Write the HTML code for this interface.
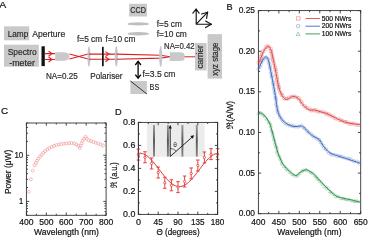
<!DOCTYPE html>
<html><head><meta charset="utf-8"><style>
html,body{margin:0;padding:0;background:#fff;width:370px;height:244px;overflow:hidden}
svg{display:block;will-change:transform}
text{font-family:"Liberation Sans", sans-serif}
</style></head><body>
<svg width="370" height="244" viewBox="0 0 370 244">
<rect width="370" height="244" fill="#fff"/>
<text x="-0.70" y="7.90" font-size="9.80" text-anchor="start" fill="#111" stroke="#111" stroke-width="0.20" textLength="7.00" lengthAdjust="spacingAndGlyphs">A</text>
<rect x="4" y="26.3" width="25.2" height="14.0" fill="#c9c9c9"/>
<text x="7.70" y="36.90" font-size="8.90" text-anchor="start" fill="#2a2a2a" stroke="#2a2a2a" stroke-width="0.18" textLength="20.60" lengthAdjust="spacingAndGlyphs">Lamp</text>
<text x="32.20" y="36.50" font-size="8.90" text-anchor="start" fill="#2a2a2a" stroke="#2a2a2a" stroke-width="0.18" textLength="33.10" lengthAdjust="spacingAndGlyphs">Aperture</text>
<rect x="4" y="44.7" width="34.8" height="22.0" fill="#c9c9c9"/>
<text x="7.70" y="54.70" font-size="8.90" text-anchor="start" fill="#2a2a2a" stroke="#2a2a2a" stroke-width="0.18" textLength="29.00" lengthAdjust="spacingAndGlyphs">Spectro</text>
<text x="9.30" y="65.50" font-size="8.90" text-anchor="start" fill="#2a2a2a" stroke="#2a2a2a" stroke-width="0.18" textLength="25.60" lengthAdjust="spacingAndGlyphs">-meter</text>
<rect x="41.5" y="46.3" width="3.3" height="19.8" fill="#111"/>
<path d="M44.8,53.6 H55 M44.8,59.5 H55" stroke="#d82222" stroke-width="1.1" fill="none"/>
<path d="M48.6,51.2 L52,53.6 L48.6,56.2 M48.6,57 L52,59.5 L48.6,62" stroke="#d82222" stroke-width="1.1" fill="none"/>
<path d="M55.2,52.2 H64 Q69.5,52.6 69.5,56.45 Q69.5,60.3 64,60.7 H55.2 Z" fill="#c9c9c9"/>
<path d="M69.5,54 L88.2,59 M69.5,59 L88.2,54" stroke="#d82222" stroke-width="1.1" fill="none"/>
<ellipse cx="89.0" cy="56.5" rx="1.55" ry="10.4" fill="#c2c7cc"/>
<path d="M88.8,54.1 H116.4 M88.8,59.2 H116.4" stroke="#d82222" stroke-width="1.1" fill="none"/>
<rect x="102" y="46.8" width="1.7" height="19.4" fill="#111"/>
<path d="M105.4,51.6 L108.9,54.1 L105.4,56.6 M105.4,57 L108.9,59.3 L105.4,61.8" stroke="#d82222" stroke-width="1.1" fill="none"/>
<ellipse cx="116.3" cy="56.5" rx="1.55" ry="10.4" fill="#c2c7cc"/>
<path d="M116.4,54.1 L160.5,55.2 L170,56.8 M116.4,59.3 L160.5,58.1 L170,56.8" stroke="#d82222" stroke-width="1.1" fill="none"/>
<ellipse cx="160.7" cy="56.6" rx="1.55" ry="10.5" fill="#c2c7cc"/>
<path d="M169.8,52.2 H180 Q184.5,52.8 184.5,54.5 V58.9 Q184.5,60.5 180,61.0 H169.8 Z" fill="#c9c9c9"/>
<path d="M184.5,56.8 H195" stroke="#d82222" stroke-width="1"/>
<rect x="195" y="43" width="11.6" height="27.4" fill="#c9c9c9"/>
<rect x="207.6" y="34.1" width="14.4" height="44.5" fill="#c9c9c9"/>
<text transform="translate(203.3,56.9) rotate(-90)" font-size="8.9" text-anchor="middle" fill="#2a2a2a" stroke="#2a2a2a" stroke-width="0.18" textLength="23.4" lengthAdjust="spacingAndGlyphs">carrier</text>
<text transform="translate(217.6,59.15) rotate(-90)" font-size="8.9" text-anchor="middle" fill="#2a2a2a" stroke="#2a2a2a" stroke-width="0.18" textLength="33.3" lengthAdjust="spacingAndGlyphs">xyz stage</text>
<rect x="129.2" y="3.8" width="17.7" height="12.7" fill="#c9c9c9"/>
<text x="138.20" y="13.20" font-size="8.90" text-anchor="middle" fill="#2a2a2a" stroke="#2a2a2a" stroke-width="0.18" textLength="15.70" lengthAdjust="spacingAndGlyphs">CCD</text>
<ellipse cx="138.2" cy="23.9" rx="10.9" ry="1.7" fill="#bdbfc1"/>
<ellipse cx="138.3" cy="33.8" rx="10.8" ry="1.7" fill="#bdbfc1"/>
<text x="156.80" y="27.40" font-size="8.90" text-anchor="start" fill="#2a2a2a" stroke="#2a2a2a" stroke-width="0.18" textLength="25.00" lengthAdjust="spacingAndGlyphs">f=5 cm</text>
<text x="156.80" y="37.40" font-size="8.90" text-anchor="start" fill="#2a2a2a" stroke="#2a2a2a" stroke-width="0.18" textLength="30.00" lengthAdjust="spacingAndGlyphs">f=10 cm</text>
<text x="105.60" y="41.90" font-size="8.90" text-anchor="start" fill="#2a2a2a" stroke="#2a2a2a" stroke-width="0.18" textLength="29.90" lengthAdjust="spacingAndGlyphs">f=10 cm</text>
<text x="77.00" y="41.90" font-size="8.90" text-anchor="start" fill="#2a2a2a" stroke="#2a2a2a" stroke-width="0.18" textLength="25.20" lengthAdjust="spacingAndGlyphs">f=5 cm</text>
<text x="164.00" y="49.10" font-size="8.90" text-anchor="start" fill="#2a2a2a" stroke="#2a2a2a" stroke-width="0.18" textLength="30.60" lengthAdjust="spacingAndGlyphs">NA=0.42</text>
<text x="46.00" y="79.00" font-size="8.90" text-anchor="start" fill="#2a2a2a" stroke="#2a2a2a" stroke-width="0.18" textLength="31.70" lengthAdjust="spacingAndGlyphs">NA=0.25</text>
<text x="90.20" y="79.00" font-size="8.90" text-anchor="start" fill="#2a2a2a" stroke="#2a2a2a" stroke-width="0.18" textLength="32.40" lengthAdjust="spacingAndGlyphs">Polariser</text>
<text x="142.40" y="76.80" font-size="8.90" text-anchor="start" fill="#2a2a2a" stroke="#2a2a2a" stroke-width="0.18" textLength="33.10" lengthAdjust="spacingAndGlyphs">f=3.5 cm</text>
<path d="M138.1,61.6 V78" stroke="#000" stroke-width="1.3" fill="none"/>
<path d="M135.3,65 L138.1,61.4 L140.9,65 M135.3,74.6 L138.1,78.2 L140.9,74.6" stroke="#000" stroke-width="1.3" fill="none"/>
<rect x="130.4" y="81" width="16.5" height="13" fill="#c9c9c9"/>
<path d="M130.4,81 L146.9,94" stroke="#222" stroke-width="0.9"/>
<text x="149.60" y="89.80" font-size="8.90" text-anchor="start" fill="#2a2a2a" stroke="#2a2a2a" stroke-width="0.18" textLength="9.70" lengthAdjust="spacingAndGlyphs">BS</text>
<path d="M196.2,24.2 V9 M196.2,24.2 H211.5 M196.2,24.2 L207.7,12.1" stroke="#111" stroke-width="1.15" fill="none" stroke-linecap="round" stroke-linejoin="round"/>
<path d="M192.9,13.2 L196.1,9.2 L199.1,13.2 M205.6,21.1 L211.3,24.3 L205.6,27.6 M201.6,14 L207.6,12.2 L206.6,18.4" stroke="#111" stroke-width="1.15" fill="none" stroke-linecap="round" stroke-linejoin="round"/>
<text x="226.50" y="10.20" font-size="9.20" text-anchor="start" fill="#111" stroke="#111" stroke-width="0.20">B</text>
<rect x="258.40" y="10.60" width="102.30" height="203.10" fill="none" stroke="#333" stroke-width="0.9"/>
<path d="M258.40,213.70 v-2.80 M258.40,10.60 v2.80 M268.63,213.70 v-1.60 M268.63,10.60 v1.60 M278.86,213.70 v-2.80 M278.86,10.60 v2.80 M289.09,213.70 v-1.60 M289.09,10.60 v1.60 M299.32,213.70 v-2.80 M299.32,10.60 v2.80 M309.55,213.70 v-1.60 M309.55,10.60 v1.60 M319.78,213.70 v-2.80 M319.78,10.60 v2.80 M330.01,213.70 v-1.60 M330.01,10.60 v1.60 M340.24,213.70 v-2.80 M340.24,10.60 v2.80 M350.47,213.70 v-1.60 M350.47,10.60 v1.60 M360.70,213.70 v-2.80 M360.70,10.60 v2.80 M258.40,213.70 h2.80 M360.70,213.70 h-2.80 M258.40,193.39 h1.60 M360.70,193.39 h-1.60 M258.40,173.08 h2.80 M360.70,173.08 h-2.80 M258.40,152.77 h1.60 M360.70,152.77 h-1.60 M258.40,132.46 h2.80 M360.70,132.46 h-2.80 M258.40,112.15 h1.60 M360.70,112.15 h-1.60 M258.40,91.84 h2.80 M360.70,91.84 h-2.80 M258.40,71.53 h1.60 M360.70,71.53 h-1.60 M258.40,51.22 h2.80 M360.70,51.22 h-2.80 M258.40,30.91 h1.60 M360.70,30.91 h-1.60 M258.40,10.60 h2.80 M360.70,10.60 h-2.80" stroke="#333" stroke-width="0.9" fill="none"/>
<text x="255.00" y="216.20" font-size="9.00" text-anchor="end" fill="#111" stroke="#111" stroke-width="0.20" textLength="16.30" lengthAdjust="spacingAndGlyphs">0.00</text>
<text x="255.00" y="175.58" font-size="9.00" text-anchor="end" fill="#111" stroke="#111" stroke-width="0.20" textLength="16.30" lengthAdjust="spacingAndGlyphs">0.05</text>
<text x="255.00" y="134.96" font-size="9.00" text-anchor="end" fill="#111" stroke="#111" stroke-width="0.20" textLength="16.30" lengthAdjust="spacingAndGlyphs">0.10</text>
<text x="255.00" y="94.34" font-size="9.00" text-anchor="end" fill="#111" stroke="#111" stroke-width="0.20" textLength="16.30" lengthAdjust="spacingAndGlyphs">0.15</text>
<text x="255.00" y="53.72" font-size="9.00" text-anchor="end" fill="#111" stroke="#111" stroke-width="0.20" textLength="16.30" lengthAdjust="spacingAndGlyphs">0.20</text>
<text x="255.00" y="13.10" font-size="9.00" text-anchor="end" fill="#111" stroke="#111" stroke-width="0.20" textLength="16.30" lengthAdjust="spacingAndGlyphs">0.25</text>
<text x="258.40" y="224.90" font-size="9.00" text-anchor="middle" fill="#111" stroke="#111" stroke-width="0.20" textLength="14.10" lengthAdjust="spacingAndGlyphs">400</text>
<text x="278.86" y="224.90" font-size="9.00" text-anchor="middle" fill="#111" stroke="#111" stroke-width="0.20" textLength="14.10" lengthAdjust="spacingAndGlyphs">450</text>
<text x="299.32" y="224.90" font-size="9.00" text-anchor="middle" fill="#111" stroke="#111" stroke-width="0.20" textLength="14.10" lengthAdjust="spacingAndGlyphs">500</text>
<text x="319.78" y="224.90" font-size="9.00" text-anchor="middle" fill="#111" stroke="#111" stroke-width="0.20" textLength="14.10" lengthAdjust="spacingAndGlyphs">550</text>
<text x="340.24" y="224.90" font-size="9.00" text-anchor="middle" fill="#111" stroke="#111" stroke-width="0.20" textLength="14.10" lengthAdjust="spacingAndGlyphs">600</text>
<text x="360.70" y="224.90" font-size="9.00" text-anchor="middle" fill="#111" stroke="#111" stroke-width="0.20" textLength="14.10" lengthAdjust="spacingAndGlyphs">650</text>
<text x="309.40" y="234.50" font-size="9.00" text-anchor="middle" fill="#111" stroke="#111" stroke-width="0.20" textLength="64.20" lengthAdjust="spacingAndGlyphs">Wavelength (nm)</text>
<text transform="translate(233.2,115) rotate(-90)" font-size="9.0" text-anchor="middle" fill="#111" stroke="#111" stroke-width="0.2" textLength="28.2" lengthAdjust="spacingAndGlyphs">&#8476;(A/W)</text>
<path d="M256.72,114.51 l1.6,-2.8 l1.6,2.8 z M258.64,113.80 l1.6,-2.8 l1.6,2.8 z M260.17,114.38 l1.6,-2.8 l1.6,2.8 z M261.06,115.58 l1.6,-2.8 l1.6,2.8 z M262.26,116.66 l1.6,-2.8 l1.6,2.8 z M263.42,117.45 l1.6,-2.8 l1.6,2.8 z M264.82,119.82 l1.6,-2.8 l1.6,2.8 z M265.48,120.38 l1.6,-2.8 l1.6,2.8 z M266.87,122.84 l1.6,-2.8 l1.6,2.8 z M267.62,123.57 l1.6,-2.8 l1.6,2.8 z M268.73,124.62 l1.6,-2.8 l1.6,2.8 z M269.20,126.56 l1.6,-2.8 l1.6,2.8 z M268.99,127.94 l1.6,-2.8 l1.6,2.8 z M269.61,130.56 l1.6,-2.8 l1.6,2.8 z M269.93,131.87 l1.6,-2.8 l1.6,2.8 z M270.84,133.21 l1.6,-2.8 l1.6,2.8 z M271.18,134.42 l1.6,-2.8 l1.6,2.8 z M271.11,136.27 l1.6,-2.8 l1.6,2.8 z M272.15,138.23 l1.6,-2.8 l1.6,2.8 z M272.21,140.10 l1.6,-2.8 l1.6,2.8 z M272.78,141.34 l1.6,-2.8 l1.6,2.8 z M273.55,143.55 l1.6,-2.8 l1.6,2.8 z M273.44,145.01 l1.6,-2.8 l1.6,2.8 z M274.16,147.08 l1.6,-2.8 l1.6,2.8 z M274.81,147.89 l1.6,-2.8 l1.6,2.8 z M275.53,149.29 l1.6,-2.8 l1.6,2.8 z M275.42,151.82 l1.6,-2.8 l1.6,2.8 z M275.62,153.09 l1.6,-2.8 l1.6,2.8 z M276.00,154.96 l1.6,-2.8 l1.6,2.8 z M277.28,156.43 l1.6,-2.8 l1.6,2.8 z M278.03,157.65 l1.6,-2.8 l1.6,2.8 z M278.51,159.61 l1.6,-2.8 l1.6,2.8 z M279.09,160.97 l1.6,-2.8 l1.6,2.8 z M280.09,163.18 l1.6,-2.8 l1.6,2.8 z M280.51,164.29 l1.6,-2.8 l1.6,2.8 z M280.97,165.80 l1.6,-2.8 l1.6,2.8 z M282.54,167.60 l1.6,-2.8 l1.6,2.8 z M283.79,167.92 l1.6,-2.8 l1.6,2.8 z M284.51,169.71 l1.6,-2.8 l1.6,2.8 z M285.36,170.61 l1.6,-2.8 l1.6,2.8 z M286.76,171.27 l1.6,-2.8 l1.6,2.8 z M287.93,173.30 l1.6,-2.8 l1.6,2.8 z M289.29,173.68 l1.6,-2.8 l1.6,2.8 z M290.87,175.63 l1.6,-2.8 l1.6,2.8 z M291.96,176.00 l1.6,-2.8 l1.6,2.8 z M293.98,177.29 l1.6,-2.8 l1.6,2.8 z M295.86,176.95 l1.6,-2.8 l1.6,2.8 z M296.56,175.15 l1.6,-2.8 l1.6,2.8 z M297.85,174.62 l1.6,-2.8 l1.6,2.8 z M299.88,172.67 l1.6,-2.8 l1.6,2.8 z M300.54,171.88 l1.6,-2.8 l1.6,2.8 z M302.09,171.44 l1.6,-2.8 l1.6,2.8 z M304.07,170.66 l1.6,-2.8 l1.6,2.8 z M305.15,171.14 l1.6,-2.8 l1.6,2.8 z M307.03,172.13 l1.6,-2.8 l1.6,2.8 z M309.06,173.19 l1.6,-2.8 l1.6,2.8 z M310.04,174.02 l1.6,-2.8 l1.6,2.8 z M311.56,174.26 l1.6,-2.8 l1.6,2.8 z M313.06,176.39 l1.6,-2.8 l1.6,2.8 z M314.26,177.60 l1.6,-2.8 l1.6,2.8 z M314.94,178.28 l1.6,-2.8 l1.6,2.8 z M315.79,179.87 l1.6,-2.8 l1.6,2.8 z M316.87,180.35 l1.6,-2.8 l1.6,2.8 z M318.15,181.75 l1.6,-2.8 l1.6,2.8 z M319.43,182.85 l1.6,-2.8 l1.6,2.8 z M320.27,184.22 l1.6,-2.8 l1.6,2.8 z M321.55,185.74 l1.6,-2.8 l1.6,2.8 z M322.66,187.67 l1.6,-2.8 l1.6,2.8 z M324.45,187.86 l1.6,-2.8 l1.6,2.8 z M325.30,189.33 l1.6,-2.8 l1.6,2.8 z M326.64,190.19 l1.6,-2.8 l1.6,2.8 z M328.37,192.56 l1.6,-2.8 l1.6,2.8 z M329.23,193.01 l1.6,-2.8 l1.6,2.8 z M330.10,193.64 l1.6,-2.8 l1.6,2.8 z M331.63,194.98 l1.6,-2.8 l1.6,2.8 z M333.46,195.88 l1.6,-2.8 l1.6,2.8 z M334.09,197.90 l1.6,-2.8 l1.6,2.8 z M336.13,197.51 l1.6,-2.8 l1.6,2.8 z M337.75,197.89 l1.6,-2.8 l1.6,2.8 z M339.38,199.65 l1.6,-2.8 l1.6,2.8 z M341.37,199.62 l1.6,-2.8 l1.6,2.8 z M342.43,199.52 l1.6,-2.8 l1.6,2.8 z M343.99,200.48 l1.6,-2.8 l1.6,2.8 z M346.02,200.84 l1.6,-2.8 l1.6,2.8 z M347.49,200.38 l1.6,-2.8 l1.6,2.8 z M349.63,201.79 l1.6,-2.8 l1.6,2.8 z M351.33,201.94 l1.6,-2.8 l1.6,2.8 z M352.94,202.26 l1.6,-2.8 l1.6,2.8 z M354.00,202.36 l1.6,-2.8 l1.6,2.8 z M355.78,202.10 l1.6,-2.8 l1.6,2.8 z M357.09,202.88 l1.6,-2.8 l1.6,2.8 z" stroke="#2f9150" stroke-width="0.5" fill="none" opacity="0.45"/>
<path d="M258.50,113.70 C259.02,113.62 260.35,112.58 261.60,113.20 C262.85,113.82 264.65,115.67 266.00,117.40 C267.35,119.13 268.70,121.33 269.70,123.60 C270.70,125.87 271.28,128.48 272.00,131.00 C272.72,133.52 273.25,135.87 274.00,138.70 C274.75,141.53 275.67,145.12 276.50,148.00 C277.33,150.88 277.85,153.20 279.00,156.00 C280.15,158.80 281.63,162.25 283.40,164.80 C285.17,167.35 287.53,169.52 289.60,171.30 C291.67,173.08 294.07,175.30 295.80,175.50 C297.53,175.70 298.38,173.47 300.00,172.50 C301.62,171.53 303.83,169.87 305.50,169.70 C307.17,169.53 308.43,170.57 310.00,171.50 C311.57,172.43 312.98,173.47 314.90,175.30 C316.82,177.13 319.17,180.07 321.50,182.50 C323.83,184.93 326.42,187.63 328.90,189.90 C331.38,192.17 333.70,194.65 336.40,196.10 C339.10,197.55 342.62,197.97 345.10,198.60 C347.58,199.23 348.82,199.32 351.30,199.90 C353.78,200.48 358.55,201.73 360.00,202.10" stroke="#2f9150" stroke-width="1.0" fill="none"/>
<path d="M256.76,69.27 a1.5,1.5 0 1,0 3.0,0 a1.5,1.5 0 1,0 -3.0,0 M258.15,67.37 a1.5,1.5 0 1,0 3.0,0 a1.5,1.5 0 1,0 -3.0,0 M258.82,66.58 a1.5,1.5 0 1,0 3.0,0 a1.5,1.5 0 1,0 -3.0,0 M259.55,64.16 a1.5,1.5 0 1,0 3.0,0 a1.5,1.5 0 1,0 -3.0,0 M259.55,62.43 a1.5,1.5 0 1,0 3.0,0 a1.5,1.5 0 1,0 -3.0,0 M260.25,60.87 a1.5,1.5 0 1,0 3.0,0 a1.5,1.5 0 1,0 -3.0,0 M261.47,60.34 a1.5,1.5 0 1,0 3.0,0 a1.5,1.5 0 1,0 -3.0,0 M262.68,58.37 a1.5,1.5 0 1,0 3.0,0 a1.5,1.5 0 1,0 -3.0,0 M263.72,57.65 a1.5,1.5 0 1,0 3.0,0 a1.5,1.5 0 1,0 -3.0,0 M264.73,57.26 a1.5,1.5 0 1,0 3.0,0 a1.5,1.5 0 1,0 -3.0,0 M266.64,58.69 a1.5,1.5 0 1,0 3.0,0 a1.5,1.5 0 1,0 -3.0,0 M267.07,59.86 a1.5,1.5 0 1,0 3.0,0 a1.5,1.5 0 1,0 -3.0,0 M266.95,61.93 a1.5,1.5 0 1,0 3.0,0 a1.5,1.5 0 1,0 -3.0,0 M267.50,63.60 a1.5,1.5 0 1,0 3.0,0 a1.5,1.5 0 1,0 -3.0,0 M268.49,64.70 a1.5,1.5 0 1,0 3.0,0 a1.5,1.5 0 1,0 -3.0,0 M268.26,67.14 a1.5,1.5 0 1,0 3.0,0 a1.5,1.5 0 1,0 -3.0,0 M268.92,67.72 a1.5,1.5 0 1,0 3.0,0 a1.5,1.5 0 1,0 -3.0,0 M268.64,69.36 a1.5,1.5 0 1,0 3.0,0 a1.5,1.5 0 1,0 -3.0,0 M269.74,71.94 a1.5,1.5 0 1,0 3.0,0 a1.5,1.5 0 1,0 -3.0,0 M269.31,73.64 a1.5,1.5 0 1,0 3.0,0 a1.5,1.5 0 1,0 -3.0,0 M270.47,75.07 a1.5,1.5 0 1,0 3.0,0 a1.5,1.5 0 1,0 -3.0,0 M270.17,76.59 a1.5,1.5 0 1,0 3.0,0 a1.5,1.5 0 1,0 -3.0,0 M270.29,77.51 a1.5,1.5 0 1,0 3.0,0 a1.5,1.5 0 1,0 -3.0,0 M271.46,80.06 a1.5,1.5 0 1,0 3.0,0 a1.5,1.5 0 1,0 -3.0,0 M271.34,82.13 a1.5,1.5 0 1,0 3.0,0 a1.5,1.5 0 1,0 -3.0,0 M271.57,83.71 a1.5,1.5 0 1,0 3.0,0 a1.5,1.5 0 1,0 -3.0,0 M272.29,84.46 a1.5,1.5 0 1,0 3.0,0 a1.5,1.5 0 1,0 -3.0,0 M272.03,86.24 a1.5,1.5 0 1,0 3.0,0 a1.5,1.5 0 1,0 -3.0,0 M272.33,88.32 a1.5,1.5 0 1,0 3.0,0 a1.5,1.5 0 1,0 -3.0,0 M272.65,89.76 a1.5,1.5 0 1,0 3.0,0 a1.5,1.5 0 1,0 -3.0,0 M272.82,92.12 a1.5,1.5 0 1,0 3.0,0 a1.5,1.5 0 1,0 -3.0,0 M273.32,93.17 a1.5,1.5 0 1,0 3.0,0 a1.5,1.5 0 1,0 -3.0,0 M273.82,95.47 a1.5,1.5 0 1,0 3.0,0 a1.5,1.5 0 1,0 -3.0,0 M273.91,97.17 a1.5,1.5 0 1,0 3.0,0 a1.5,1.5 0 1,0 -3.0,0 M274.24,98.31 a1.5,1.5 0 1,0 3.0,0 a1.5,1.5 0 1,0 -3.0,0 M274.52,99.27 a1.5,1.5 0 1,0 3.0,0 a1.5,1.5 0 1,0 -3.0,0 M274.66,101.19 a1.5,1.5 0 1,0 3.0,0 a1.5,1.5 0 1,0 -3.0,0 M274.43,103.74 a1.5,1.5 0 1,0 3.0,0 a1.5,1.5 0 1,0 -3.0,0 M274.80,104.97 a1.5,1.5 0 1,0 3.0,0 a1.5,1.5 0 1,0 -3.0,0 M275.59,106.77 a1.5,1.5 0 1,0 3.0,0 a1.5,1.5 0 1,0 -3.0,0 M275.50,108.39 a1.5,1.5 0 1,0 3.0,0 a1.5,1.5 0 1,0 -3.0,0 M276.10,110.42 a1.5,1.5 0 1,0 3.0,0 a1.5,1.5 0 1,0 -3.0,0 M276.05,111.76 a1.5,1.5 0 1,0 3.0,0 a1.5,1.5 0 1,0 -3.0,0 M276.66,113.00 a1.5,1.5 0 1,0 3.0,0 a1.5,1.5 0 1,0 -3.0,0 M277.76,114.92 a1.5,1.5 0 1,0 3.0,0 a1.5,1.5 0 1,0 -3.0,0 M278.29,116.80 a1.5,1.5 0 1,0 3.0,0 a1.5,1.5 0 1,0 -3.0,0 M279.53,117.81 a1.5,1.5 0 1,0 3.0,0 a1.5,1.5 0 1,0 -3.0,0 M280.22,119.27 a1.5,1.5 0 1,0 3.0,0 a1.5,1.5 0 1,0 -3.0,0 M281.22,120.83 a1.5,1.5 0 1,0 3.0,0 a1.5,1.5 0 1,0 -3.0,0 M282.35,121.82 a1.5,1.5 0 1,0 3.0,0 a1.5,1.5 0 1,0 -3.0,0 M283.67,123.49 a1.5,1.5 0 1,0 3.0,0 a1.5,1.5 0 1,0 -3.0,0 M285.32,124.33 a1.5,1.5 0 1,0 3.0,0 a1.5,1.5 0 1,0 -3.0,0 M287.06,124.26 a1.5,1.5 0 1,0 3.0,0 a1.5,1.5 0 1,0 -3.0,0 M288.24,125.89 a1.5,1.5 0 1,0 3.0,0 a1.5,1.5 0 1,0 -3.0,0 M290.11,125.36 a1.5,1.5 0 1,0 3.0,0 a1.5,1.5 0 1,0 -3.0,0 M291.04,126.22 a1.5,1.5 0 1,0 3.0,0 a1.5,1.5 0 1,0 -3.0,0 M292.67,126.16 a1.5,1.5 0 1,0 3.0,0 a1.5,1.5 0 1,0 -3.0,0 M294.37,126.84 a1.5,1.5 0 1,0 3.0,0 a1.5,1.5 0 1,0 -3.0,0 M296.76,126.92 a1.5,1.5 0 1,0 3.0,0 a1.5,1.5 0 1,0 -3.0,0 M297.80,126.32 a1.5,1.5 0 1,0 3.0,0 a1.5,1.5 0 1,0 -3.0,0 M300.00,125.43 a1.5,1.5 0 1,0 3.0,0 a1.5,1.5 0 1,0 -3.0,0 M301.81,127.14 a1.5,1.5 0 1,0 3.0,0 a1.5,1.5 0 1,0 -3.0,0 M302.46,128.19 a1.5,1.5 0 1,0 3.0,0 a1.5,1.5 0 1,0 -3.0,0 M303.78,128.80 a1.5,1.5 0 1,0 3.0,0 a1.5,1.5 0 1,0 -3.0,0 M305.46,130.58 a1.5,1.5 0 1,0 3.0,0 a1.5,1.5 0 1,0 -3.0,0 M305.76,131.30 a1.5,1.5 0 1,0 3.0,0 a1.5,1.5 0 1,0 -3.0,0 M307.33,132.35 a1.5,1.5 0 1,0 3.0,0 a1.5,1.5 0 1,0 -3.0,0 M308.24,133.50 a1.5,1.5 0 1,0 3.0,0 a1.5,1.5 0 1,0 -3.0,0 M310.03,134.21 a1.5,1.5 0 1,0 3.0,0 a1.5,1.5 0 1,0 -3.0,0 M311.21,135.85 a1.5,1.5 0 1,0 3.0,0 a1.5,1.5 0 1,0 -3.0,0 M312.14,136.55 a1.5,1.5 0 1,0 3.0,0 a1.5,1.5 0 1,0 -3.0,0 M314.30,137.49 a1.5,1.5 0 1,0 3.0,0 a1.5,1.5 0 1,0 -3.0,0 M315.29,138.84 a1.5,1.5 0 1,0 3.0,0 a1.5,1.5 0 1,0 -3.0,0 M317.47,139.70 a1.5,1.5 0 1,0 3.0,0 a1.5,1.5 0 1,0 -3.0,0 M317.96,139.93 a1.5,1.5 0 1,0 3.0,0 a1.5,1.5 0 1,0 -3.0,0 M318.79,142.10 a1.5,1.5 0 1,0 3.0,0 a1.5,1.5 0 1,0 -3.0,0 M319.80,142.70 a1.5,1.5 0 1,0 3.0,0 a1.5,1.5 0 1,0 -3.0,0 M320.79,145.27 a1.5,1.5 0 1,0 3.0,0 a1.5,1.5 0 1,0 -3.0,0 M322.18,145.73 a1.5,1.5 0 1,0 3.0,0 a1.5,1.5 0 1,0 -3.0,0 M322.56,148.00 a1.5,1.5 0 1,0 3.0,0 a1.5,1.5 0 1,0 -3.0,0 M324.05,149.01 a1.5,1.5 0 1,0 3.0,0 a1.5,1.5 0 1,0 -3.0,0 M324.69,149.39 a1.5,1.5 0 1,0 3.0,0 a1.5,1.5 0 1,0 -3.0,0 M326.48,151.12 a1.5,1.5 0 1,0 3.0,0 a1.5,1.5 0 1,0 -3.0,0 M327.16,152.93 a1.5,1.5 0 1,0 3.0,0 a1.5,1.5 0 1,0 -3.0,0 M329.16,153.65 a1.5,1.5 0 1,0 3.0,0 a1.5,1.5 0 1,0 -3.0,0 M330.15,154.43 a1.5,1.5 0 1,0 3.0,0 a1.5,1.5 0 1,0 -3.0,0 M331.74,155.01 a1.5,1.5 0 1,0 3.0,0 a1.5,1.5 0 1,0 -3.0,0 M333.74,154.79 a1.5,1.5 0 1,0 3.0,0 a1.5,1.5 0 1,0 -3.0,0 M335.45,156.17 a1.5,1.5 0 1,0 3.0,0 a1.5,1.5 0 1,0 -3.0,0 M336.77,155.61 a1.5,1.5 0 1,0 3.0,0 a1.5,1.5 0 1,0 -3.0,0 M338.65,156.28 a1.5,1.5 0 1,0 3.0,0 a1.5,1.5 0 1,0 -3.0,0 M339.85,156.68 a1.5,1.5 0 1,0 3.0,0 a1.5,1.5 0 1,0 -3.0,0 M341.42,157.25 a1.5,1.5 0 1,0 3.0,0 a1.5,1.5 0 1,0 -3.0,0 M343.30,157.90 a1.5,1.5 0 1,0 3.0,0 a1.5,1.5 0 1,0 -3.0,0 M345.37,158.41 a1.5,1.5 0 1,0 3.0,0 a1.5,1.5 0 1,0 -3.0,0 M346.72,158.79 a1.5,1.5 0 1,0 3.0,0 a1.5,1.5 0 1,0 -3.0,0 M348.18,159.10 a1.5,1.5 0 1,0 3.0,0 a1.5,1.5 0 1,0 -3.0,0 M349.69,159.64 a1.5,1.5 0 1,0 3.0,0 a1.5,1.5 0 1,0 -3.0,0 M351.79,160.93 a1.5,1.5 0 1,0 3.0,0 a1.5,1.5 0 1,0 -3.0,0 M352.86,161.37 a1.5,1.5 0 1,0 3.0,0 a1.5,1.5 0 1,0 -3.0,0 M355.21,161.39 a1.5,1.5 0 1,0 3.0,0 a1.5,1.5 0 1,0 -3.0,0 M356.71,162.39 a1.5,1.5 0 1,0 3.0,0 a1.5,1.5 0 1,0 -3.0,0 M357.99,163.50 a1.5,1.5 0 1,0 3.0,0 a1.5,1.5 0 1,0 -3.0,0" stroke="#3f68bf" stroke-width="0.5" fill="none" opacity="0.45"/>
<path d="M258.50,69.00 C258.92,68.08 260.17,65.20 261.00,63.50 C261.83,61.80 262.62,59.90 263.50,58.80 C264.38,57.70 265.47,56.62 266.30,56.90 C267.13,57.18 267.63,57.50 268.50,60.50 C269.37,63.50 270.52,70.00 271.50,74.90 C272.48,79.80 273.65,85.72 274.40,89.90 C275.15,94.08 275.53,96.90 276.00,100.00 C276.47,103.10 276.60,105.80 277.20,108.50 C277.80,111.20 278.37,113.88 279.60,116.20 C280.83,118.52 282.73,120.82 284.60,122.40 C286.47,123.98 288.90,125.00 290.80,125.70 C292.70,126.40 294.07,126.52 296.00,126.60 C297.93,126.68 300.40,125.33 302.40,126.20 C304.40,127.07 306.25,130.15 308.00,131.80 C309.75,133.45 311.05,134.83 312.90,136.10 C314.75,137.37 317.42,137.82 319.10,139.40 C320.78,140.98 321.32,143.43 323.00,145.60 C324.68,147.77 326.92,150.75 329.20,152.40 C331.48,154.05 333.80,154.45 336.70,155.50 C339.60,156.55 342.67,157.40 346.60,158.70 C350.53,160.00 358.02,162.53 360.30,163.30" stroke="#3f68bf" stroke-width="1.0" fill="none"/>
<path d="M256.99,61.61 h2.8 v2.8 h-2.8 z M258.05,60.75 h2.8 v2.8 h-2.8 z M258.45,59.02 h2.8 v2.8 h-2.8 z M259.53,57.20 h2.8 v2.8 h-2.8 z M259.85,55.22 h2.8 v2.8 h-2.8 z M260.03,53.30 h2.8 v2.8 h-2.8 z M260.60,52.54 h2.8 v2.8 h-2.8 z M261.46,50.18 h2.8 v2.8 h-2.8 z M262.14,49.65 h2.8 v2.8 h-2.8 z M263.85,47.99 h2.8 v2.8 h-2.8 z M264.26,46.01 h2.8 v2.8 h-2.8 z M265.42,45.07 h2.8 v2.8 h-2.8 z M266.82,44.58 h2.8 v2.8 h-2.8 z M268.09,46.49 h2.8 v2.8 h-2.8 z M269.55,47.44 h2.8 v2.8 h-2.8 z M269.44,49.60 h2.8 v2.8 h-2.8 z M269.99,50.38 h2.8 v2.8 h-2.8 z M270.07,52.07 h2.8 v2.8 h-2.8 z M270.90,53.90 h2.8 v2.8 h-2.8 z M270.97,55.57 h2.8 v2.8 h-2.8 z M271.12,56.90 h2.8 v2.8 h-2.8 z M271.56,58.75 h2.8 v2.8 h-2.8 z M271.88,59.88 h2.8 v2.8 h-2.8 z M272.50,61.84 h2.8 v2.8 h-2.8 z M273.13,63.92 h2.8 v2.8 h-2.8 z M273.64,65.76 h2.8 v2.8 h-2.8 z M273.95,67.74 h2.8 v2.8 h-2.8 z M273.97,68.63 h2.8 v2.8 h-2.8 z M274.89,70.05 h2.8 v2.8 h-2.8 z M274.95,72.41 h2.8 v2.8 h-2.8 z M274.57,74.35 h2.8 v2.8 h-2.8 z M275.70,75.74 h2.8 v2.8 h-2.8 z M275.81,77.67 h2.8 v2.8 h-2.8 z M275.51,78.95 h2.8 v2.8 h-2.8 z M276.20,81.05 h2.8 v2.8 h-2.8 z M276.84,82.70 h2.8 v2.8 h-2.8 z M276.97,84.46 h2.8 v2.8 h-2.8 z M277.45,85.84 h2.8 v2.8 h-2.8 z M277.45,86.55 h2.8 v2.8 h-2.8 z M277.91,88.61 h2.8 v2.8 h-2.8 z M278.53,90.85 h2.8 v2.8 h-2.8 z M279.68,92.11 h2.8 v2.8 h-2.8 z M280.52,93.70 h2.8 v2.8 h-2.8 z M281.23,94.22 h2.8 v2.8 h-2.8 z M282.54,96.64 h2.8 v2.8 h-2.8 z M283.49,97.49 h2.8 v2.8 h-2.8 z M285.25,97.32 h2.8 v2.8 h-2.8 z M286.96,97.19 h2.8 v2.8 h-2.8 z M287.72,96.28 h2.8 v2.8 h-2.8 z M289.79,95.25 h2.8 v2.8 h-2.8 z M291.36,95.69 h2.8 v2.8 h-2.8 z M292.81,94.90 h2.8 v2.8 h-2.8 z M294.43,95.78 h2.8 v2.8 h-2.8 z M296.22,96.47 h2.8 v2.8 h-2.8 z M297.43,96.77 h2.8 v2.8 h-2.8 z M297.99,98.34 h2.8 v2.8 h-2.8 z M299.49,99.85 h2.8 v2.8 h-2.8 z M300.21,100.89 h2.8 v2.8 h-2.8 z M300.69,102.63 h2.8 v2.8 h-2.8 z M302.46,104.47 h2.8 v2.8 h-2.8 z M303.69,105.08 h2.8 v2.8 h-2.8 z M304.82,106.43 h2.8 v2.8 h-2.8 z M306.14,106.95 h2.8 v2.8 h-2.8 z M308.04,107.91 h2.8 v2.8 h-2.8 z M309.76,109.36 h2.8 v2.8 h-2.8 z M310.50,108.61 h2.8 v2.8 h-2.8 z M312.99,109.19 h2.8 v2.8 h-2.8 z M314.29,108.49 h2.8 v2.8 h-2.8 z M315.67,109.98 h2.8 v2.8 h-2.8 z M317.26,110.07 h2.8 v2.8 h-2.8 z M318.81,110.49 h2.8 v2.8 h-2.8 z M321.29,110.30 h2.8 v2.8 h-2.8 z M322.81,111.20 h2.8 v2.8 h-2.8 z M324.50,111.99 h2.8 v2.8 h-2.8 z M325.41,112.92 h2.8 v2.8 h-2.8 z M327.20,112.42 h2.8 v2.8 h-2.8 z M328.24,113.82 h2.8 v2.8 h-2.8 z M330.21,114.32 h2.8 v2.8 h-2.8 z M331.43,115.12 h2.8 v2.8 h-2.8 z M333.12,116.59 h2.8 v2.8 h-2.8 z M334.31,117.26 h2.8 v2.8 h-2.8 z M336.66,117.15 h2.8 v2.8 h-2.8 z M338.28,118.71 h2.8 v2.8 h-2.8 z M339.82,118.77 h2.8 v2.8 h-2.8 z M340.88,119.53 h2.8 v2.8 h-2.8 z M343.11,120.38 h2.8 v2.8 h-2.8 z M344.09,120.68 h2.8 v2.8 h-2.8 z M345.63,120.62 h2.8 v2.8 h-2.8 z M347.11,122.13 h2.8 v2.8 h-2.8 z M348.96,122.60 h2.8 v2.8 h-2.8 z M350.60,121.93 h2.8 v2.8 h-2.8 z M352.55,122.07 h2.8 v2.8 h-2.8 z M354.10,123.36 h2.8 v2.8 h-2.8 z M356.29,123.37 h2.8 v2.8 h-2.8 z M357.73,123.71 h2.8 v2.8 h-2.8 z" stroke="#e0474c" stroke-width="0.5" fill="none" opacity="0.45"/>
<path d="M258.50,63.00 C258.90,62.17 260.08,59.92 260.90,58.00 C261.72,56.08 262.23,53.50 263.40,51.50 C264.57,49.50 266.65,46.28 267.90,46.00 C269.15,45.72 270.02,47.55 270.90,49.80 C271.78,52.05 272.37,55.73 273.20,59.50 C274.03,63.27 275.17,68.65 275.90,72.40 C276.63,76.15 276.98,79.07 277.60,82.00 C278.22,84.93 278.63,87.43 279.60,90.00 C280.57,92.57 282.15,95.85 283.40,97.40 C284.65,98.95 285.55,99.47 287.10,99.30 C288.65,99.13 290.83,96.55 292.70,96.40 C294.57,96.25 296.58,96.98 298.30,98.40 C300.02,99.82 301.18,103.00 303.00,104.90 C304.82,106.80 307.23,108.95 309.20,109.80 C311.17,110.65 313.00,109.68 314.80,110.00 C316.60,110.32 318.22,111.18 320.00,111.70 C321.78,112.22 323.35,112.28 325.50,113.10 C327.65,113.92 330.42,115.40 332.90,116.60 C335.38,117.80 337.70,119.22 340.40,120.30 C343.10,121.38 345.78,122.37 349.10,123.10 C352.42,123.83 358.43,124.43 360.30,124.70" stroke="#e0474c" stroke-width="1.0" fill="none"/>
<rect x="296.6" y="16.8" width="3.5" height="3.3" fill="none" stroke="#e0474c" stroke-width="0.75" opacity="0.55"/>
<circle cx="298.1" cy="26.2" r="1.75" fill="none" stroke="#3f68bf" stroke-width="0.75" opacity="0.55"/>
<path d="M296.1,35.6 L298.1,32.0 L300.1,35.6 Z" fill="none" stroke="#2f9150" stroke-width="0.75" opacity="0.55"/>
<path d="M305.5,18.50 H319.9" stroke="#e0474c" stroke-width="0.9"/>
<text x="321.70" y="20.60" font-size="6.90" text-anchor="start" fill="#111" stroke="#111" stroke-width="0.20" textLength="29.70" lengthAdjust="spacingAndGlyphs">500 NWrs</text>
<path d="M305.5,26.20 H319.9" stroke="#3f68bf" stroke-width="0.9"/>
<text x="321.70" y="28.30" font-size="6.90" text-anchor="start" fill="#111" stroke="#111" stroke-width="0.20" textLength="29.70" lengthAdjust="spacingAndGlyphs">200 NWrs</text>
<path d="M305.5,33.90 H319.9" stroke="#2f9150" stroke-width="0.9"/>
<text x="321.70" y="36.00" font-size="6.90" text-anchor="start" fill="#111" stroke="#111" stroke-width="0.20" textLength="29.70" lengthAdjust="spacingAndGlyphs">100 NWrs</text>
<text x="0.90" y="113.90" font-size="9.90" text-anchor="start" fill="#111" stroke="#111" stroke-width="0.20">C</text>
<rect x="26.40" y="123.00" width="79.70" height="92.30" fill="none" stroke="#333" stroke-width="0.9"/>
<path d="M26.40,215.30 v-2.80 M26.40,123.00 v2.80 M36.36,215.30 v-1.60 M36.36,123.00 v1.60 M46.32,215.30 v-2.80 M46.32,123.00 v2.80 M56.29,215.30 v-1.60 M56.29,123.00 v1.60 M66.25,215.30 v-2.80 M66.25,123.00 v2.80 M76.21,215.30 v-1.60 M76.21,123.00 v1.60 M86.17,215.30 v-2.80 M86.17,123.00 v2.80 M96.14,215.30 v-1.60 M96.14,123.00 v1.60 M106.10,215.30 v-2.80 M106.10,123.00 v2.80 M26.40,215.30 h1.60 M106.10,215.30 h-1.60 M26.40,211.65 h1.60 M106.10,211.65 h-1.60 M26.40,208.56 h1.60 M106.10,208.56 h-1.60 M26.40,205.88 h1.60 M106.10,205.88 h-1.60 M26.40,203.52 h1.60 M106.10,203.52 h-1.60 M26.40,201.41 h2.80 M106.10,201.41 h-2.80 M26.40,187.51 h1.60 M106.10,187.51 h-1.60 M26.40,179.39 h1.60 M106.10,179.39 h-1.60 M26.40,173.62 h1.60 M106.10,173.62 h-1.60 M26.40,169.15 h1.60 M106.10,169.15 h-1.60 M26.40,165.50 h1.60 M106.10,165.50 h-1.60 M26.40,162.41 h1.60 M106.10,162.41 h-1.60 M26.40,159.73 h1.60 M106.10,159.73 h-1.60 M26.40,157.37 h1.60 M106.10,157.37 h-1.60 M26.40,155.26 h2.80 M106.10,155.26 h-2.80 M26.40,141.36 h1.60 M106.10,141.36 h-1.60 M26.40,133.24 h1.60 M106.10,133.24 h-1.60 M26.40,127.47 h1.60 M106.10,127.47 h-1.60 M26.40,123.00 h1.60 M106.10,123.00 h-1.60" stroke="#333" stroke-width="0.9" fill="none"/>
<text x="23.20" y="157.76" font-size="9.00" text-anchor="end" fill="#111" stroke="#111" stroke-width="0.20" textLength="8.80" lengthAdjust="spacingAndGlyphs">10</text>
<text x="23.20" y="203.91" font-size="9.00" text-anchor="end" fill="#111" stroke="#111" stroke-width="0.20" textLength="4.20" lengthAdjust="spacingAndGlyphs">1</text>
<text x="26.40" y="225.00" font-size="9.00" text-anchor="middle" fill="#111" stroke="#111" stroke-width="0.20" textLength="14.30" lengthAdjust="spacingAndGlyphs">400</text>
<text x="46.32" y="225.00" font-size="9.00" text-anchor="middle" fill="#111" stroke="#111" stroke-width="0.20" textLength="14.30" lengthAdjust="spacingAndGlyphs">500</text>
<text x="66.25" y="225.00" font-size="9.00" text-anchor="middle" fill="#111" stroke="#111" stroke-width="0.20" textLength="14.30" lengthAdjust="spacingAndGlyphs">600</text>
<text x="86.17" y="225.00" font-size="9.00" text-anchor="middle" fill="#111" stroke="#111" stroke-width="0.20" textLength="14.30" lengthAdjust="spacingAndGlyphs">700</text>
<text x="106.10" y="225.00" font-size="9.00" text-anchor="middle" fill="#111" stroke="#111" stroke-width="0.20" textLength="14.30" lengthAdjust="spacingAndGlyphs">800</text>
<text x="66.50" y="235.30" font-size="9.00" text-anchor="middle" fill="#111" stroke="#111" stroke-width="0.20" textLength="64.90" lengthAdjust="spacingAndGlyphs">Wavelength (nm)</text>
<text transform="translate(11.3,171.9) rotate(-90)" font-size="9.0" text-anchor="middle" fill="#111" stroke="#111" stroke-width="0.2" textLength="44.2" lengthAdjust="spacingAndGlyphs">Power (&#956;W)</text>
<circle cx="28.70" cy="191.80" r="1.5" fill="none" stroke="#f29a9a" stroke-width="0.65"/>
<circle cx="30.90" cy="179.30" r="1.5" fill="none" stroke="#f29a9a" stroke-width="0.65"/>
<circle cx="32.70" cy="170.60" r="1.5" fill="none" stroke="#f29a9a" stroke-width="0.65"/>
<circle cx="34.70" cy="165.30" r="1.5" fill="none" stroke="#f29a9a" stroke-width="0.65"/>
<circle cx="35.87" cy="163.03" r="1.5" fill="none" stroke="#f29a9a" stroke-width="0.65"/>
<circle cx="37.04" cy="160.77" r="1.5" fill="none" stroke="#f29a9a" stroke-width="0.65"/>
<circle cx="38.37" cy="158.61" r="1.5" fill="none" stroke="#f29a9a" stroke-width="0.65"/>
<circle cx="40.00" cy="156.64" r="1.5" fill="none" stroke="#f29a9a" stroke-width="0.65"/>
<circle cx="41.66" cy="154.71" r="1.5" fill="none" stroke="#f29a9a" stroke-width="0.65"/>
<circle cx="43.39" cy="152.84" r="1.5" fill="none" stroke="#f29a9a" stroke-width="0.65"/>
<circle cx="45.22" cy="151.07" r="1.5" fill="none" stroke="#f29a9a" stroke-width="0.65"/>
<circle cx="47.22" cy="149.49" r="1.5" fill="none" stroke="#f29a9a" stroke-width="0.65"/>
<circle cx="49.36" cy="148.13" r="1.5" fill="none" stroke="#f29a9a" stroke-width="0.65"/>
<circle cx="51.66" cy="147.02" r="1.5" fill="none" stroke="#f29a9a" stroke-width="0.65"/>
<circle cx="53.99" cy="145.98" r="1.5" fill="none" stroke="#f29a9a" stroke-width="0.65"/>
<circle cx="56.39" cy="145.12" r="1.5" fill="none" stroke="#f29a9a" stroke-width="0.65"/>
<circle cx="58.83" cy="144.43" r="1.5" fill="none" stroke="#f29a9a" stroke-width="0.65"/>
<circle cx="61.36" cy="144.07" r="1.5" fill="none" stroke="#f29a9a" stroke-width="0.65"/>
<circle cx="63.88" cy="143.72" r="1.5" fill="none" stroke="#f29a9a" stroke-width="0.65"/>
<circle cx="66.42" cy="143.46" r="1.5" fill="none" stroke="#f29a9a" stroke-width="0.65"/>
<circle cx="68.96" cy="143.25" r="1.5" fill="none" stroke="#f29a9a" stroke-width="0.65"/>
<circle cx="71.50" cy="143.03" r="1.5" fill="none" stroke="#f29a9a" stroke-width="0.65"/>
<circle cx="74.00" cy="143.47" r="1.5" fill="none" stroke="#f29a9a" stroke-width="0.65"/>
<circle cx="76.32" cy="144.39" r="1.5" fill="none" stroke="#f29a9a" stroke-width="0.65"/>
<circle cx="78.30" cy="145.98" r="1.5" fill="none" stroke="#f29a9a" stroke-width="0.65"/>
<circle cx="79.88" cy="147.98" r="1.5" fill="none" stroke="#f29a9a" stroke-width="0.65"/>
<circle cx="80.74" cy="145.62" r="1.5" fill="none" stroke="#f29a9a" stroke-width="0.65"/>
<circle cx="81.59" cy="143.22" r="1.5" fill="none" stroke="#f29a9a" stroke-width="0.65"/>
<circle cx="82.50" cy="140.84" r="1.5" fill="none" stroke="#f29a9a" stroke-width="0.65"/>
<circle cx="83.92" cy="138.72" r="1.5" fill="none" stroke="#f29a9a" stroke-width="0.65"/>
<circle cx="85.56" cy="136.77" r="1.5" fill="none" stroke="#f29a9a" stroke-width="0.65"/>
<circle cx="86.74" cy="138.68" r="1.5" fill="none" stroke="#f29a9a" stroke-width="0.65"/>
<circle cx="88.65" cy="140.33" r="1.5" fill="none" stroke="#f29a9a" stroke-width="0.65"/>
<circle cx="91.03" cy="141.17" r="1.5" fill="none" stroke="#f29a9a" stroke-width="0.65"/>
<circle cx="93.46" cy="141.92" r="1.5" fill="none" stroke="#f29a9a" stroke-width="0.65"/>
<circle cx="95.89" cy="142.71" r="1.5" fill="none" stroke="#f29a9a" stroke-width="0.65"/>
<circle cx="98.28" cy="143.58" r="1.5" fill="none" stroke="#f29a9a" stroke-width="0.65"/>
<circle cx="100.67" cy="144.48" r="1.5" fill="none" stroke="#f29a9a" stroke-width="0.65"/>
<circle cx="103.01" cy="145.48" r="1.5" fill="none" stroke="#f29a9a" stroke-width="0.65"/>
<text x="115.00" y="114.60" font-size="9.20" text-anchor="start" fill="#111" stroke="#111" stroke-width="0.20">D</text>
<defs><linearGradient id="barg" x1="0" y1="0" x2="0" y2="1"><stop offset="0" stop-color="#9a9a9a"/><stop offset="0.5" stop-color="#555"/><stop offset="1" stop-color="#8a8a8a"/></linearGradient></defs>
<rect x="146.9" y="123.1" width="57.7" height="33.6" fill="#ececec"/>
<rect x="153.05" y="125.0" width="1.9" height="31.6" fill="url(#barg)"/>
<rect x="166.95" y="125.0" width="1.9" height="31.6" fill="url(#barg)"/>
<rect x="181.45" y="125.0" width="1.9" height="31.6" fill="url(#barg)"/>
<rect x="195.85" y="125.0" width="1.9" height="31.6" fill="url(#barg)"/>
<path d="M170.2,156.5 V127.5 M170.2,156.5 L192.5,136.8" stroke="#111" stroke-width="0.9" fill="none"/>
<path d="M168.6,128.5 L170.2,124.8 L171.8,128.5 Z M190.3,135.9 L194.2,135.3 L192.7,138.8 Z" fill="#111"/>
<path d="M170.2,148.5 A8,8 0 0 1 176.2,151.2" stroke="#111" stroke-width="0.6" fill="none"/>
<text x="175.00" y="146.80" font-size="6.60" text-anchor="middle" fill="#333" stroke="#333" stroke-width="0.00">&#952;</text>
<rect x="138.40" y="122.40" width="79.20" height="92.00" fill="none" stroke="#333" stroke-width="0.9"/>
<path d="M138.40,214.40 v-2.80 M138.40,122.40 v2.80 M148.30,214.40 v-1.60 M148.30,122.40 v1.60 M158.20,214.40 v-2.80 M158.20,122.40 v2.80 M168.10,214.40 v-1.60 M168.10,122.40 v1.60 M178.00,214.40 v-2.80 M178.00,122.40 v2.80 M187.90,214.40 v-1.60 M187.90,122.40 v1.60 M197.80,214.40 v-2.80 M197.80,122.40 v2.80 M207.70,214.40 v-1.60 M207.70,122.40 v1.60 M217.60,214.40 v-2.80 M217.60,122.40 v2.80 M138.40,214.40 h2.80 M217.60,214.40 h-2.80 M138.40,202.90 h1.60 M217.60,202.90 h-1.60 M138.40,191.40 h2.80 M217.60,191.40 h-2.80 M138.40,179.90 h1.60 M217.60,179.90 h-1.60 M138.40,168.40 h2.80 M217.60,168.40 h-2.80 M138.40,156.90 h1.60 M217.60,156.90 h-1.60 M138.40,145.40 h2.80 M217.60,145.40 h-2.80 M138.40,133.90 h1.60 M217.60,133.90 h-1.60 M138.40,122.40 h2.80 M217.60,122.40 h-2.80" stroke="#333" stroke-width="0.9" fill="none"/>
<text x="135.40" y="216.90" font-size="9.00" text-anchor="end" fill="#111" stroke="#111" stroke-width="0.20" textLength="12.30" lengthAdjust="spacingAndGlyphs">0.0</text>
<text x="135.40" y="193.90" font-size="9.00" text-anchor="end" fill="#111" stroke="#111" stroke-width="0.20" textLength="12.30" lengthAdjust="spacingAndGlyphs">0.2</text>
<text x="135.40" y="170.90" font-size="9.00" text-anchor="end" fill="#111" stroke="#111" stroke-width="0.20" textLength="12.30" lengthAdjust="spacingAndGlyphs">0.4</text>
<text x="135.40" y="147.90" font-size="9.00" text-anchor="end" fill="#111" stroke="#111" stroke-width="0.20" textLength="12.30" lengthAdjust="spacingAndGlyphs">0.6</text>
<text x="135.40" y="124.90" font-size="9.00" text-anchor="end" fill="#111" stroke="#111" stroke-width="0.20" textLength="12.30" lengthAdjust="spacingAndGlyphs">0.8</text>
<text x="138.40" y="224.90" font-size="9.00" text-anchor="middle" fill="#111" stroke="#111" stroke-width="0.20" textLength="5.00" lengthAdjust="spacingAndGlyphs">0</text>
<text x="158.20" y="224.90" font-size="9.00" text-anchor="middle" fill="#111" stroke="#111" stroke-width="0.20" textLength="9.30" lengthAdjust="spacingAndGlyphs">45</text>
<text x="178.00" y="224.90" font-size="9.00" text-anchor="middle" fill="#111" stroke="#111" stroke-width="0.20" textLength="9.30" lengthAdjust="spacingAndGlyphs">90</text>
<text x="197.80" y="224.90" font-size="9.00" text-anchor="middle" fill="#111" stroke="#111" stroke-width="0.20" textLength="13.60" lengthAdjust="spacingAndGlyphs">135</text>
<text x="217.60" y="224.90" font-size="9.00" text-anchor="middle" fill="#111" stroke="#111" stroke-width="0.20" textLength="13.60" lengthAdjust="spacingAndGlyphs">180</text>
<text x="178.00" y="235.20" font-size="9.00" text-anchor="middle" fill="#111" stroke="#111" stroke-width="0.20" textLength="43.20" lengthAdjust="spacingAndGlyphs">&#920; (degrees)</text>
<text transform="translate(117.3,175) rotate(-90)" font-size="9.0" text-anchor="middle" fill="#111" stroke="#111" stroke-width="0.2" textLength="25.4" lengthAdjust="spacingAndGlyphs">&#8476; (a.u.)</text>
<path d="M138.40,153.31 C138.62,153.30 139.28,153.22 139.72,153.22 C140.16,153.22 140.60,153.25 141.04,153.31 C141.48,153.37 141.92,153.46 142.36,153.58 C142.80,153.71 143.24,153.86 143.68,154.04 C144.12,154.22 144.56,154.43 145.00,154.66 C145.44,154.90 145.88,155.16 146.32,155.45 C146.76,155.74 147.20,156.06 147.64,156.40 C148.08,156.75 148.52,157.11 148.96,157.50 C149.40,157.89 149.84,158.31 150.28,158.74 C150.72,159.17 151.16,159.62 151.60,160.09 C152.04,160.56 152.48,161.05 152.92,161.56 C153.36,162.06 153.80,162.58 154.24,163.11 C154.68,163.64 155.12,164.19 155.56,164.74 C156.00,165.29 156.44,165.86 156.88,166.43 C157.32,167.00 157.76,167.57 158.20,168.15 C158.64,168.73 159.08,169.31 159.52,169.90 C159.96,170.48 160.40,171.06 160.84,171.64 C161.28,172.22 161.72,172.79 162.16,173.36 C162.60,173.93 163.04,174.50 163.48,175.05 C163.92,175.60 164.36,176.15 164.80,176.68 C165.24,177.21 165.68,177.73 166.12,178.23 C166.56,178.74 167.00,179.23 167.44,179.70 C167.88,180.17 168.32,180.62 168.76,181.05 C169.20,181.48 169.64,181.90 170.08,182.29 C170.52,182.68 170.96,183.04 171.40,183.39 C171.84,183.73 172.28,184.05 172.72,184.34 C173.16,184.63 173.60,184.89 174.04,185.13 C174.48,185.36 174.92,185.57 175.36,185.75 C175.80,185.93 176.24,186.08 176.68,186.21 C177.12,186.33 177.56,186.42 178.00,186.48 C178.44,186.54 178.88,186.57 179.32,186.57 C179.76,186.57 180.20,186.54 180.64,186.48 C181.08,186.42 181.52,186.33 181.96,186.21 C182.40,186.08 182.84,185.93 183.28,185.75 C183.72,185.57 184.16,185.36 184.60,185.13 C185.04,184.89 185.48,184.63 185.92,184.34 C186.36,184.05 186.80,183.73 187.24,183.39 C187.68,183.04 188.12,182.68 188.56,182.29 C189.00,181.90 189.44,181.48 189.88,181.05 C190.32,180.62 190.76,180.17 191.20,179.70 C191.64,179.23 192.08,178.74 192.52,178.23 C192.96,177.73 193.40,177.21 193.84,176.68 C194.28,176.15 194.72,175.60 195.16,175.05 C195.60,174.50 196.04,173.93 196.48,173.36 C196.92,172.79 197.36,172.22 197.80,171.64 C198.24,171.06 198.68,170.48 199.12,169.90 C199.56,169.31 200.00,168.73 200.44,168.15 C200.88,167.57 201.32,167.00 201.76,166.43 C202.20,165.86 202.64,165.29 203.08,164.74 C203.52,164.19 203.96,163.64 204.40,163.11 C204.84,162.58 205.28,162.06 205.72,161.56 C206.16,161.05 206.60,160.56 207.04,160.09 C207.48,159.62 207.92,159.17 208.36,158.74 C208.80,158.31 209.24,157.89 209.68,157.50 C210.12,157.11 210.56,156.75 211.00,156.40 C211.44,156.06 211.88,155.74 212.32,155.45 C212.76,155.16 213.20,154.90 213.64,154.66 C214.08,154.43 214.52,154.22 214.96,154.04 C215.40,153.86 215.84,153.71 216.28,153.58 C216.72,153.46 217.38,153.36 217.60,153.31" stroke="#e23030" stroke-width="1.0" fill="none"/>
<path d="M138.40,149.10 v11 M136.60,149.10 h3.6 M136.60,160.10 h3.6 M145.00,151.75 v11 M143.20,151.75 h3.6 M143.20,162.75 h3.6 M151.60,157.96 v11 M149.80,157.96 h3.6 M149.80,168.96 h3.6 M158.20,167.04 v11 M156.40,167.04 h3.6 M156.40,178.04 h3.6 M164.80,177.28 v11 M163.00,177.28 h3.6 M163.00,188.28 h3.6 M171.40,179.81 v11 M169.60,179.81 h3.6 M169.60,190.81 h3.6 M178.00,181.65 v11 M176.20,181.65 h3.6 M176.20,192.65 h3.6 M184.60,176.01 v11 M182.80,176.01 h3.6 M182.80,187.01 h3.6 M191.20,167.96 v11 M189.40,167.96 h3.6 M189.40,178.96 h3.6 M197.80,160.03 v11 M196.00,160.03 h3.6 M196.00,171.03 h3.6 M204.40,151.98 v11 M202.60,151.98 h3.6 M202.60,162.98 h3.6 M211.00,148.64 v11 M209.20,148.64 h3.6 M209.20,159.64 h3.6 M217.60,148.64 v11 M215.80,148.64 h3.6 M215.80,159.64 h3.6" stroke="#e23030" stroke-width="0.9" fill="none"/>
<circle cx="138.40" cy="154.60" r="1.15" fill="#fff" stroke="#e23030" stroke-width="0.75"/>
<circle cx="145.00" cy="157.25" r="1.15" fill="#fff" stroke="#e23030" stroke-width="0.75"/>
<circle cx="151.60" cy="163.46" r="1.15" fill="#fff" stroke="#e23030" stroke-width="0.75"/>
<circle cx="158.20" cy="172.54" r="1.15" fill="#fff" stroke="#e23030" stroke-width="0.75"/>
<circle cx="164.80" cy="182.78" r="1.15" fill="#fff" stroke="#e23030" stroke-width="0.75"/>
<circle cx="171.40" cy="185.31" r="1.15" fill="#fff" stroke="#e23030" stroke-width="0.75"/>
<circle cx="178.00" cy="187.15" r="1.15" fill="#fff" stroke="#e23030" stroke-width="0.75"/>
<circle cx="184.60" cy="181.51" r="1.15" fill="#fff" stroke="#e23030" stroke-width="0.75"/>
<circle cx="191.20" cy="173.46" r="1.15" fill="#fff" stroke="#e23030" stroke-width="0.75"/>
<circle cx="197.80" cy="165.53" r="1.15" fill="#fff" stroke="#e23030" stroke-width="0.75"/>
<circle cx="204.40" cy="157.48" r="1.15" fill="#fff" stroke="#e23030" stroke-width="0.75"/>
<circle cx="211.00" cy="154.14" r="1.15" fill="#fff" stroke="#e23030" stroke-width="0.75"/>
<circle cx="217.60" cy="154.14" r="1.15" fill="#fff" stroke="#e23030" stroke-width="0.75"/>
<path d="M138.40,122.40 V214.40 M217.60,122.40 V214.40" stroke="#333" stroke-width="0.9"/>
</svg>
</body></html>
